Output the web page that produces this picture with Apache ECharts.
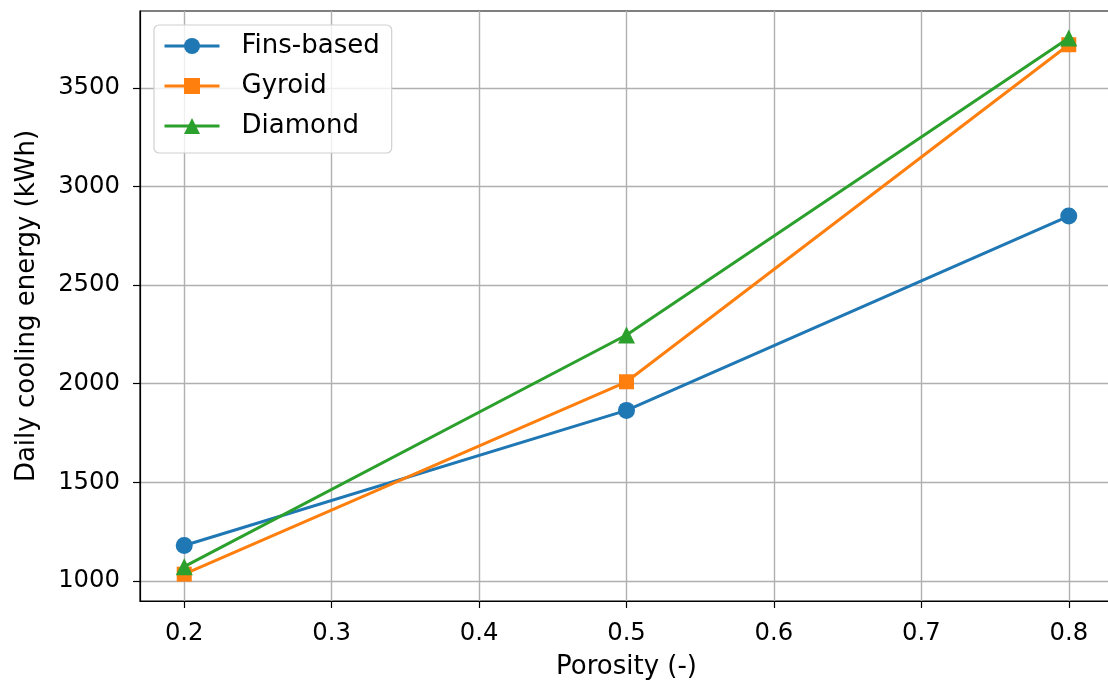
<!DOCTYPE html>
<html><head><meta charset="utf-8">
<script src="https://cdn.jsdelivr.net/npm/echarts@6/dist/echarts.min.js"></script>
<style>html,body{margin:0;padding:0;background:#fff}#c{width:1108px;height:684px}</style>
</head><body><div id="c"></div>
<script>
const porosity = [0.2, 0.5, 0.8];
const finsBased = [1180, 1865, 2850];
const gyroid = [1035, 2010, 3718];
const diamond = [1073, 2247, 3752];
const xTicks = [0.2, 0.3, 0.4, 0.5, 0.6, 0.7, 0.8];
const yTicks = [1000, 1500, 2000, 2500, 3000, 3500];

const font = 'DejaVu Sans';
const fs = 24.3;
const fsT = 26;
const chart = echarts.init(document.getElementById('c'), null, {renderer: 'canvas'});
const pts = arr => porosity.map((x, i) => [x, arr[i]]);
const mk = (name, data, color, symbol, size, z) => ({
  name, type: 'line', data: pts(data), color,
  symbol, symbolSize: size, showSymbol: true,
  lineStyle: {width: 3, color}, itemStyle: {color},
  z, animation: false
});
chart.setOption({
  animation: false,
  grid: {left: 140, top: 11, width: 973, height: 590, outerBoundsMode: 'none', containLabel: false,
         show: true, borderColor: '#000', borderWidth: 1.2, backgroundColor: 'transparent'},
  xAxis: {
    type: 'value', min: 0.17, max: 0.83,
    name: 'Porosity (-)', nameLocation: 'middle', nameGap: 53,
    nameTextStyle: {fontFamily: font, fontSize: fsT, color: '#000'},
    axisLine: {show: true, lineStyle: {color: '#000', width: 1.2}},
    axisTick: {show: true, customValues: xTicks, length: 7, lineStyle: {color: '#000', width: 1.2}},
    axisLabel: {customValues: xTicks, fontFamily: font, fontSize: fs, color: '#000', margin: 21, formatter: v => v.toFixed(1)},
    splitLine: {show: true, lineStyle: {color: '#b0b0b0', width: 1.4}}
  },
  yAxis: {
    type: 'value', min: 899, max: 3889,
    name: 'Daily cooling energy (kWh)', nameLocation: 'middle', nameGap: 100, nameRotate: 90,
    nameTextStyle: {fontFamily: font, fontSize: fsT, color: '#000'},
    axisLine: {show: true, lineStyle: {color: '#000', width: 1.2}},
    axisTick: {show: true, customValues: yTicks, length: 7, lineStyle: {color: '#000', width: 1.2}},
    axisLabel: {customValues: yTicks, fontFamily: font, fontSize: fs, color: '#000', margin: 20, formatter: v => String(v)},
    splitLine: {show: true, lineStyle: {color: '#b0b0b0', width: 1.4}}
  },
  legend: {
    orient: 'vertical', left: 154, top: 25,
    padding: [8, 12, 14, 9],
    itemWidth: 55, itemHeight: 20, itemGap: 14,
    lineStyle: {width: 3},
    backgroundColor: 'rgba(255,255,255,0.8)', borderColor: '#d0d0d0', borderWidth: 1.2, borderRadius: 5,
    textStyle: {fontFamily: font, fontSize: fsT, lineHeight: 26, color: '#000', padding: [0, 0, 0, 17]},
    data: ['Fins-based', 'Gyroid', 'Diamond']
  },
  series: [
    mk('Fins-based', finsBased, '#1f77b4', 'circle', 17, 2),
    mk('Gyroid', gyroid, '#ff7f0e', 'rect', 15, 3),
    mk('Diamond', diamond, '#2ca02c', 'triangle', 17, 4)
  ]
});
</script></body></html>
